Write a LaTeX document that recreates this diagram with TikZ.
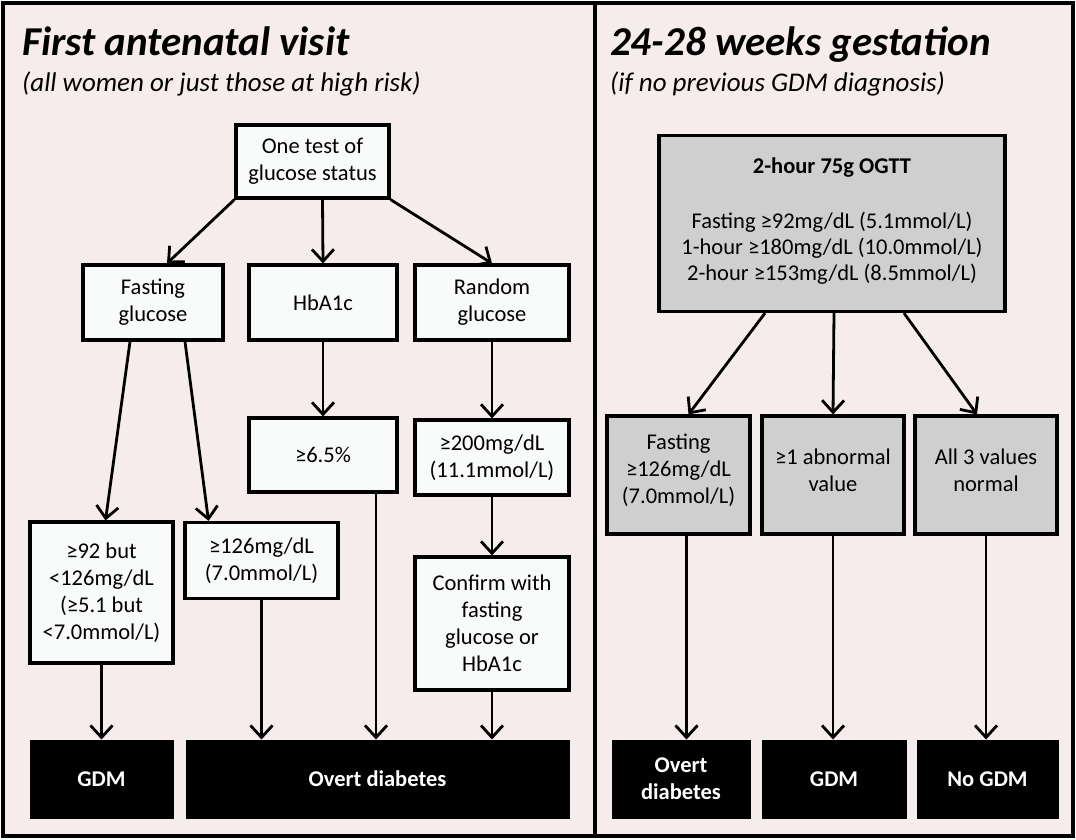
\documentclass[tikz,border=0pt]{standalone}
\usepackage{fontspec}
\setmainfont{Carlito}
\usetikzlibrary{arrows.meta}
\definecolor{bg}{HTML}{F6ECEB}
\definecolor{wbox}{HTML}{F9FAFA}
\definecolor{gbox}{HTML}{CFCFCF}
\tikzset{
  box/.style={draw=black, line width=3.2pt, fill=wbox, align=center, inner sep=2pt, font=\fontsize{22.5}{27}\selectfont},
  gbx/.style={box, fill=gbox},
  txt/.style={align=center, inner sep=0pt, font=\fontsize{22.5}{27}\selectfont},
  bbox/.style={draw=black, fill=black, text=white, line width=1pt, align=center, font=\bfseries\fontsize{22.5}{27}\selectfont},
  arr/.style={line width=2.8pt, -{Straight Barb[length=12pt, width=22pt, line width=2.8pt]}},
  ttl/.style={anchor=base west, inner sep=0pt, font=\bfseries\itshape\fontsize{41}{48}\selectfont},
  sub/.style={anchor=base west, inner sep=0pt, font=\itshape\fontsize{27}{32}\selectfont},
}
\begin{document}
\begin{tikzpicture}[x=1pt,y=-1pt]
\useasboundingbox (0,0) rectangle (1076,839);
\fill[bg] (3,3) rectangle (1073,836);
\draw[line width=3.2pt] (3,3) rectangle (1073,836);
\draw[line width=3.2pt] (595,3) -- (595,836);
% titles
\node[ttl] (t1) at (22,55) {First antenatal visit};
\node[sub] (s1) at (22,91) {(all women or just those at high risk)};
\node[ttl] (t2) at (610,55) {24-28 weeks gestation};
\node[sub] (s2) at (610,91) {(if no previous GDM diagnosis)};
% left boxes
\node[box, minimum width=153pt, minimum height=73pt] (one) at (312.5,161.5) {One test of\\glucose status};
\node[box, minimum width=140pt, minimum height=75pt] (fast) at (153,302.5) {Fasting\\glucose};
\node[box, minimum width=148pt, minimum height=75pt] (hba) at (323,302.5) {HbA1c};
\node[box, minimum width=154pt, minimum height=75pt] (rand) at (492,302.5) {Random\\glucose};
\node[box, minimum width=148pt, minimum height=74pt] (p65) at (323,455) {≥6.5\%};
\node[box, minimum width=154pt, minimum height=75pt] (r200) at (492,457.5) {≥200mg/dL\\(11.1mmol/L)};
\node[box, minimum width=143pt, minimum height=141pt] (f92) at (101.5,592.5) {≥92 but\\<126mg/dL\\(≥5.1 but\\<7.0mmol/L)};
\node[box, minimum width=153pt, minimum height=76pt] (f126) at (261.5,560.5) {≥126mg/dL\\(7.0mmol/L)};
\node[box, minimum width=154pt, minimum height=133pt] (conf) at (492,623.5) {Confirm with\\fasting\\glucose or\\HbA1c};
\node[bbox, minimum width=143pt, minimum height=78pt] (gdm1) at (101.5,779) {GDM};
\node[bbox, minimum width=383pt, minimum height=78pt] (ovt1) at (377.5,779) {Overt diabetes};
% right boxes
\node[gbx, minimum width=346pt, minimum height=176pt] (ogtt) at (832,223.5) {};
\node[txt, font=\bfseries\fontsize{22.5}{27}\selectfont] (ogttt) at (832,168) {2-hour 75g OGTT};
\node[txt, font=\fontsize{22.5}{26}\selectfont] (ogttv) at (832,248) {Fasting ≥92mg/dL (5.1mmol/L)\\1-hour ≥180mg/dL (10.0mmol/L)\\2-hour ≥153mg/dL (8.5mmol/L)};
\node[gbx, minimum width=143pt, minimum height=118pt] (rf) at (678.5,475) {};
\node[gbx, minimum width=142pt, minimum height=118pt] (ra) at (833,475) {};
\node[gbx, minimum width=142pt, minimum height=118pt] (rn) at (986,475) {};
\node[txt] (rft) at (678.5,470) {Fasting\\≥126mg/dL\\(7.0mmol/L)};
\node[txt] (rat) at (833,470) {≥1 abnormal\\value};
\node[txt] (rnt) at (986,470) {All 3 values\\normal};
\node[bbox, minimum width=138pt, minimum height=78pt] (ovt2) at (681,779) {Overt\\diabetes};
\node[bbox, minimum width=144pt, minimum height=78pt] (gdm2) at (834,779) {GDM};
\node[bbox, minimum width=141pt, minimum height=78pt] (ngdm) at (987.5,779) {No GDM};
% left arrows
\draw[arr] (one.south west) -- ([xshift=14pt]fast.north);
\draw[arr] ([xshift=10pt]one.south) -- (hba.north);
\draw[arr] (one.south east) -- (rand.north);
\draw[arr] ([xshift=-23pt]fast.south) -- ([xshift=4pt]f92.north);
\draw[arr] ([xshift=32pt]fast.south) -- ([xshift=-53pt]f126.north);
\draw[arr] (hba.south) -- (p65.north);
\draw[arr] (rand.south) -- (r200.north);
\draw[arr] (r200.south) -- (conf.north);
\draw[arr] ([xshift=53pt]p65.south) -- ([xshift=53pt]p65.south |- ovt1.north);
\draw[arr] (f92.south) -- (gdm1.north);
\draw[arr] (f126.south) -- (f126.south |- ovt1.north);
\draw[arr] (conf.south) -- (conf.south |- ovt1.north);
% right arrows
\draw[arr] ([xshift=-67pt]ogtt.south) -- ([xshift=10pt]rf.north);
\draw[arr] ([xshift=2pt]ogtt.south) -- (ra.north);
\draw[arr] ([xshift=72pt]ogtt.south) -- ([xshift=-9pt]rn.north);
\draw[arr] ([xshift=8pt]rf.south) -- ([xshift=8pt]rf.south |- ovt2.north);
\draw[arr] (ra.south) -- (ra.south |- gdm2.north);
\draw[arr] (rn.south) -- (rn.south |- ngdm.north);
\end{tikzpicture}
\end{document}
